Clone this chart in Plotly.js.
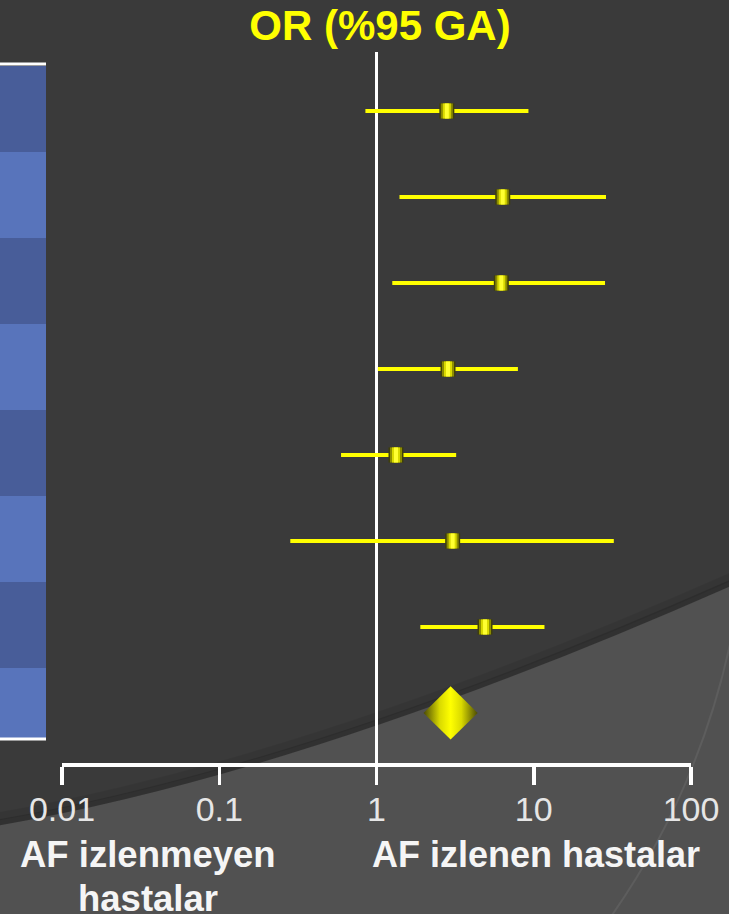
<!DOCTYPE html>
<html><head><meta charset="utf-8">
<script src="https://cdn.plot.ly/plotly-3.0.1.min.js"></script>
<style>html,body{margin:0;padding:0;background:#3a3a3a;overflow:hidden}#chart{width:729px;height:914px}</style>
</head><body><div id="chart"></div>
<script>
// ---- data ----
const orEstimate = [2.80, 6.35, 6.22, 2.85, 1.33, 3.05, 4.90];
const ciLower    = [0.85, 1.40, 1.26, 1.02, 0.595, 0.283, 1.90];
const ciUpper    = [9.25, 28.8, 28.4, 7.93, 3.21, 32.3, 11.7];
const pooledOR    = 2.96;
const pooledLower = 1.99;
const pooledUpper = 4.40;
const tickValues = [0.01, 0.1, 1, 10, 100];
const tickLabels = ['0.01', '0.1', '1', '10', '100'];
const titleText = 'OR (%95 GA)';
const leftLabel1 = 'AF izlenmeyen';
const leftLabel2 = 'hastalar';
const rightLabel = 'AF izlenen hastalar';

// ---- layout geometry ----
const W = 729, H = 914, L = 62, R = 38, T = 52, B = 151;
const PW = W - L - R, PH = H - T - B;
const px = x => (x - L) / PW;
const py = y => (H - B - y) / PH;
const P = (x, y) => px(x).toFixed(5) + ',' + py(y).toFixed(5);

const rowIdx = orEstimate.map((_, i) => i);
const pooledRow = orEstimate.length;

const YEL = '#ffff00';
const traces = [];
// confidence intervals as error bars
traces.push({
  type: 'scatter', mode: 'markers', x: orEstimate, y: rowIdx,
  marker: {size: 1, color: 'rgba(0,0,0,0)'},
  error_x: {type: 'data', symmetric: false,
    array: orEstimate.map((v, i) => ciUpper[i] - v),
    arrayminus: orEstimate.map((v, i) => v - ciLower[i]),
    color: YEL, thickness: 4, width: 0},
  hoverinfo: 'skip', showlegend: false
});
// squares with a horizontal shading (stacked vertical bars)
[[15, '#3f3f0a'], [12, '#8c8c00'], [8, '#d9d900'], [4, '#ffff30']].forEach(([w, c]) => {
  traces.push({
    type: 'scatter', mode: 'markers', x: orEstimate, y: rowIdx,
    marker: {symbol: 'line-ns', size: 10.8, line: {width: w, color: c}},
    hoverinfo: 'skip', showlegend: false
  });
});
// pooled diamond
const dh = 0.31;
traces.push({
  type: 'scatter', mode: 'lines',
  x: [pooledLower, pooledOR, pooledUpper, pooledOR, pooledLower],
  y: [pooledRow, pooledRow - dh, pooledRow, pooledRow + dh, pooledRow],
  fill: 'toself', fillcolor: YEL,
  fillgradient: {type: 'horizontal',
    colorscale: [[0, '#4a4a05'], [0.3, '#dada00'], [0.5, '#ffff00'], [0.7, '#dada00'], [1, '#4a4a05']]},
  line: {width: 0, color: 'rgba(0,0,0,0)'},
  hoverinfo: 'skip', showlegend: false
});

// ---- decorative background shapes ----
const shapes = [];
// lighter curved region
shapes.push({type: 'path', xref: 'paper', yref: 'paper', layer: 'below',
  path: 'M' + P(-5, 826) + ' Q' + P(310, 772) + ' ' + P(735, 584) + ' L' + P(735, 920) + ' L' + P(-5, 920) + ' Z',
  fillcolor: '#515151', line: {width: 0}});
// shadow along the curve
[[3, 'rgba(0,0,0,0.14)', 6], [9, 'rgba(0,0,0,0.07)', 8]].forEach(([o, c, w]) => {
  shapes.push({type: 'path', xref: 'paper', yref: 'paper', layer: 'below',
    path: 'M' + P(-5, 826 - o) + ' Q' + P(310, 772 - o) + ' ' + P(735, 584 - o),
    line: {color: c, width: w}});
});
// faint arc at bottom right
shapes.push({type: 'path', xref: 'paper', yref: 'paper', layer: 'below',
  path: 'M' + P(732, 635) + ' Q' + P(700, 790) + ' ' + P(610, 918),
  line: {color: 'rgba(255,255,255,0.07)', width: 2}});
// blue table stripes at left edge
const stripeEdges = [66, 152, 238, 324, 410, 496, 582, 668, 738];
for (let k = 0; k < stripeEdges.length - 1; k++) {
  shapes.push({type: 'rect', xref: 'paper', yref: 'paper', layer: 'below',
    x0: px(-2), x1: px(46), y0: py(stripeEdges[k]), y1: py(stripeEdges[k + 1]),
    fillcolor: k % 2 === 0 ? '#485d99' : '#5874bb', line: {width: 0}});
}
[64, 739].forEach(yy => shapes.push({type: 'line', xref: 'paper', yref: 'paper', layer: 'below',
  x0: px(-2), x1: px(46), y0: py(yy), y1: py(yy), line: {color: '#ffffff', width: 3}}));
// vertical line of no effect
shapes.push({type: 'line', xref: 'x', yref: 'paper', layer: 'below',
  x0: 1, x1: 1, y0: py(785), y1: 1, line: {color: '#ffffff', width: 3}});

const layout = {
  width: W, height: H,
  margin: {l: L, r: R, t: T, b: B, pad: 0},
  paper_bgcolor: '#3a3a3a', plot_bgcolor: 'rgba(0,0,0,0)',
  font: {family: '"Liberation Sans", Arial, sans-serif'},
  title: {text: '<b>' + titleText + '</b>', xref: 'paper', x: px(380), xanchor: 'center',
    yref: 'container', y: 1 - 25 / H, yanchor: 'middle',
    font: {size: 42, color: YEL, family: '"Liberation Sans", Arial, sans-serif'}},
  xaxis: {type: 'log', range: [-2, 2], tickvals: tickValues, ticktext: tickLabels,
    ticks: 'outside', ticklen: 18, tickwidth: 3.5, tickcolor: '#ffffff',
    showline: true, linecolor: '#ffffff', linewidth: 4, showgrid: false, zeroline: false,
    ticklabelstandoff: -5,
    tickfont: {size: 34, color: '#e6e6e6'}, fixedrange: true},
  yaxis: {range: [7.582, -0.686], visible: false, fixedrange: true},
  shapes: shapes,
  annotations: [
    {text: '<b>' + leftLabel1 + '</b>', xref: 'paper', yref: 'paper', x: px(148), y: py(855),
      xanchor: 'center', yanchor: 'middle', showarrow: false, font: {size: 36.5, color: '#f5f5f5'}},
    {text: '<b>' + leftLabel2 + '</b>', xref: 'paper', yref: 'paper', x: px(148), y: py(898),
      xanchor: 'center', yanchor: 'middle', showarrow: false, font: {size: 36.5, color: '#f5f5f5'}},
    {text: '<b>' + rightLabel + '</b>', xref: 'paper', yref: 'paper', x: px(536), y: py(855),
      xanchor: 'center', yanchor: 'middle', showarrow: false, font: {size: 36, color: '#f5f5f5'}}
  ],
  showlegend: false
};
Plotly.newPlot('chart', traces, layout, {displayModeBar: false, staticPlot: true});
</script></body></html>
